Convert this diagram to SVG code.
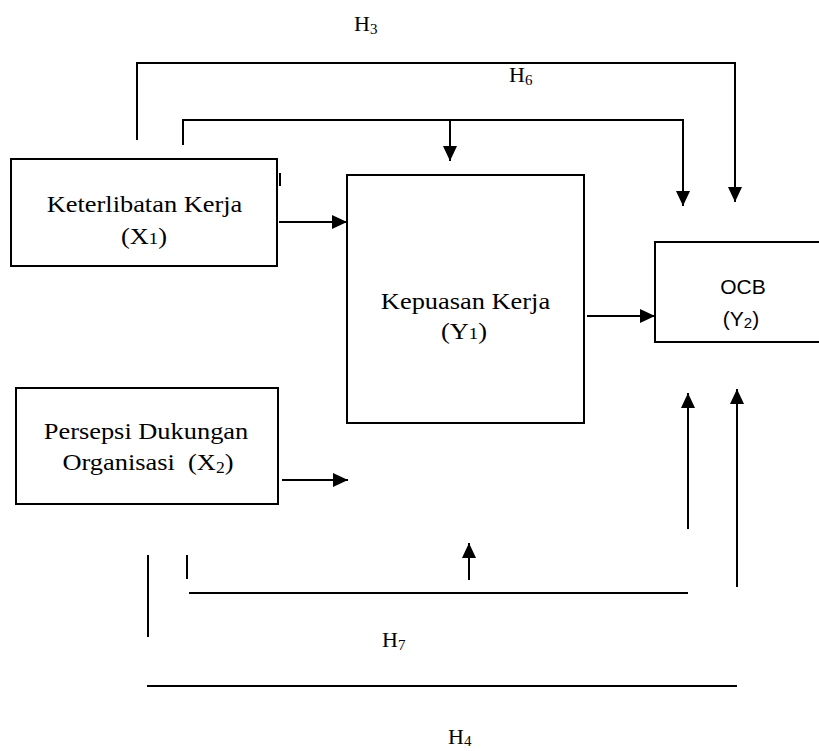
<svg xmlns="http://www.w3.org/2000/svg" width="819" height="751" viewBox="0 0 819 751">
  <style>
    .box { fill: #fff; stroke: #000; stroke-width: 2; }
    .conn { fill: none; stroke: #000; stroke-width: 2; }
    .serif { font-family: "Liberation Serif", "Times New Roman", serif; font-size: 24px; fill: #000; text-anchor: middle; }
    .hlab { font-family: "Liberation Serif", "Times New Roman", serif; font-size: 22px; fill: #000; }
    .sans { font-family: "Liberation Sans", Arial, sans-serif; font-size: 21px; fill: #000; text-anchor: middle; }
    .sub { font-size: 15px; }
  </style>
  <defs>
    <marker id="arrow" markerUnits="userSpaceOnUse" markerWidth="15" markerHeight="14" refX="15" refY="7" orient="auto">
      <path d="M0,0 L15,7 L0,14 z" fill="#000"/>
    </marker>
  </defs>

  <rect x="0" y="0" width="819" height="751" fill="#fff"/>

  <g id="connectors">
    <!-- H3 -->
    <path class="conn" d="M137,140 V63 H735 V202" marker-end="url(#arrow)"/>
    <!-- H6 -->
    <path class="conn" d="M183,145 V120 H683 V206" marker-end="url(#arrow)"/>
    <path class="conn" d="M450,120 V161" marker-end="url(#arrow)"/>
    <!-- X1 -> Y1 -->
    <path class="conn" d="M279,222 H347" marker-end="url(#arrow)"/>
    <line class="conn" x1="280" y1="173" x2="280" y2="186"/>
    <!-- Y1 -> Y2 -->
    <path class="conn" d="M587,316 H655" marker-end="url(#arrow)"/>
    <!-- X2 arrow -->
    <path class="conn" d="M282,480 H348" marker-end="url(#arrow)"/>
    <!-- H7 -->
    <line class="conn" x1="187" y1="555" x2="187" y2="579"/>
    <line class="conn" x1="189" y1="593" x2="688" y2="593"/>
    <path class="conn" d="M469,580 V543" marker-end="url(#arrow)"/>
    <path class="conn" d="M688,529 V393" marker-end="url(#arrow)"/>
    <!-- H4 -->
    <line class="conn" x1="148" y1="555" x2="148" y2="637"/>
    <line class="conn" x1="147" y1="686" x2="737" y2="686"/>
    <path class="conn" d="M737,587 V389" marker-end="url(#arrow)"/>
  </g>

  <g id="node-x1">
    <rect class="box" x="11" y="159" width="266" height="107"/>
    <text class="serif" transform="translate(144.5,212) scale(1.1,1)">Keterlibatan Kerja</text>
    <text class="serif" transform="translate(144,244) scale(1.1,1)">(X<tspan font-size="17px">1</tspan>)</text>
  </g>

  <g id="node-y1">
    <rect class="box" x="347" y="175" width="237" height="248"/>
    <text class="serif" transform="translate(465.5,309) scale(1.1,1)">Kepuasan Kerja</text>
    <text class="serif" transform="translate(464,339) scale(1.1,1)">(Y<tspan font-size="17px">1</tspan>)</text>
  </g>

  <g id="node-x2">
    <rect class="box" x="16" y="388" width="262" height="116"/>
    <text class="serif" transform="translate(146,439) scale(1.1,1)">Persepsi Dukungan</text>
    <text class="serif" transform="translate(148,470) scale(1.1,1)" xml:space="preserve">Organisasi  (X<tspan font-size="16px" dy="3">2</tspan><tspan dy="-3">)</tspan></text>
  </g>

  <g id="node-y2">
    <rect class="box" x="655" y="242" width="200" height="100"/>
    <text class="sans" x="743" y="294">OCB</text>
    <text class="sans" x="741" y="326">(Y<tspan font-size="15px" dy="2">2</tspan><tspan dy="-2">)</tspan></text>
  </g>

  <g id="labels">
    <text class="hlab" x="354" y="31">H<tspan class="sub" dy="3">3</tspan></text>
    <text class="hlab" x="509" y="82">H<tspan class="sub" dy="3">6</tspan></text>
    <text class="hlab" x="382" y="647">H<tspan class="sub" dy="3">7</tspan></text>
    <text class="hlab" x="448" y="744">H<tspan class="sub" dy="2">4</tspan></text>
  </g>
</svg>
